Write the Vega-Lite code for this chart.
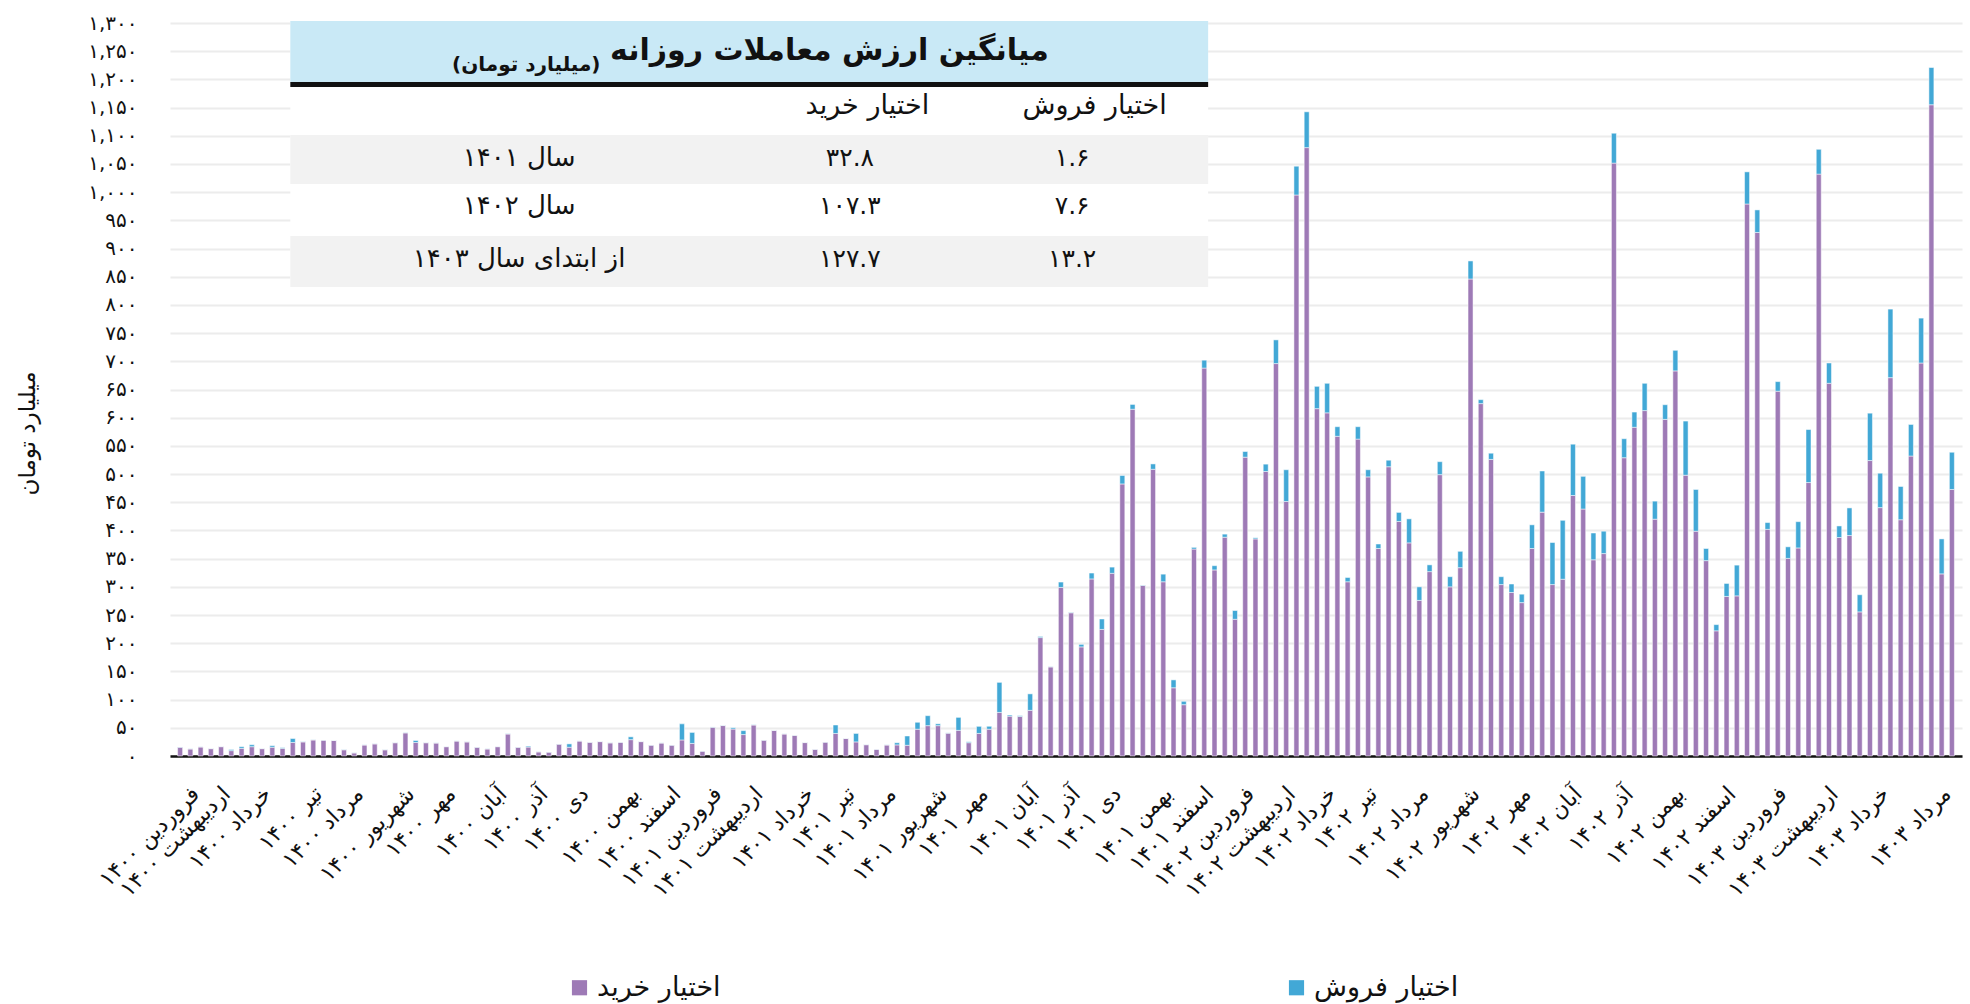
{
  "$schema": "https://vega.github.io/schema/vega-lite/v6.json",
  "width": 1792,
  "height": 733,
  "autosize": {"type": "none"},
  "padding": {"left": 170, "top": 23, "right": 8, "bottom": 248},
  "background": "white",
  "config": {
    "font": "DejaVu Sans",
    "view": {"stroke": null},
    "locale": {"number": {"decimal": ".", "thousands": ",", "grouping": [3], "currency": ["", ""], "numerals": ["۰","۱","۲","۳","۴","۵","۶","۷","۸","۹"]}}
  },
  "layer": [
    {
      "data": {"values": [
        {"w":1,"buy":15.5,"sell":0.5},{"w":2,"buy":12.5,"sell":0.3},{"w":3,"buy":16,"sell":0.3},{"w":4,"buy":13,"sell":0.3},{"w":5,"buy":16.5,"sell":0.3},
        {"w":6,"buy":9.5,"sell":2},{"w":7,"buy":13.5,"sell":3},{"w":8,"buy":16.5,"sell":3.5},{"w":9,"buy":13,"sell":0.3},{"w":10,"buy":15.5,"sell":2.8},
        {"w":11,"buy":13.5,"sell":1.3},{"w":12,"buy":24,"sell":7},{"w":13,"buy":25,"sell":0.5},{"w":14,"buy":28.5,"sell":0.3},{"w":15,"buy":28,"sell":0.3},
        {"w":16,"buy":27.5,"sell":0.3},{"w":17,"buy":11,"sell":0.5},{"w":18,"buy":5.5,"sell":0.3},{"w":19,"buy":19.5,"sell":0.3},{"w":20,"buy":21.5,"sell":0.3},
        {"w":21,"buy":11,"sell":0.3},{"w":22,"buy":23.5,"sell":0.3},{"w":23,"buy":41,"sell":0.5},{"w":24,"buy":24,"sell":3.5},{"w":25,"buy":23.5,"sell":0.3},
        {"w":26,"buy":23,"sell":0.3},{"w":27,"buy":16.5,"sell":0.3},{"w":28,"buy":26.5,"sell":0.3},{"w":29,"buy":25,"sell":0.3},{"w":30,"buy":15.5,"sell":0.3},
        {"w":31,"buy":12.5,"sell":0.3},{"w":32,"buy":16.5,"sell":0.3},{"w":33,"buy":39,"sell":0.5},{"w":34,"buy":15.5,"sell":0.3},{"w":35,"buy":15.8,"sell":1.7},
        {"w":36,"buy":7.3,"sell":0.3},{"w":37,"buy":6.8,"sell":0.3},{"w":38,"buy":21,"sell":0.3},{"w":39,"buy":15.5,"sell":6},{"w":40,"buy":26.5,"sell":0.3},
        {"w":41,"buy":24.3,"sell":0.3},{"w":42,"buy":25.5,"sell":0.3},{"w":43,"buy":23.3,"sell":0.3},{"w":44,"buy":24.3,"sell":0.3},{"w":45,"buy":29,"sell":5},
        {"w":46,"buy":25.5,"sell":0.3},{"w":47,"buy":19.2,"sell":0.3},{"w":48,"buy":23,"sell":0.3},{"w":49,"buy":19.2,"sell":0.3},{"w":50,"buy":28.5,"sell":28.5},
        {"w":51,"buy":22.3,"sell":19.5},{"w":52,"buy":8.5,"sell":0.3},{"w":53,"buy":51,"sell":0.5},{"w":54,"buy":54,"sell":0.5},{"w":55,"buy":47.8,"sell":2.3},
        {"w":56,"buy":38,"sell":7},{"w":57,"buy":55,"sell":0.5},{"w":58,"buy":28,"sell":0.3},{"w":59,"buy":45.3,"sell":0.3},{"w":60,"buy":39,"sell":0.3},
        {"w":61,"buy":36.6,"sell":0.3},{"w":62,"buy":23.8,"sell":0.3},{"w":63,"buy":11.8,"sell":0.3},{"w":64,"buy":24.5,"sell":0.3},{"w":65,"buy":40,"sell":15},
        {"w":66,"buy":31,"sell":0.3},{"w":67,"buy":25,"sell":15},{"w":68,"buy":20,"sell":0.3},{"w":69,"buy":11.8,"sell":0.3},{"w":70,"buy":19.5,"sell":0.3},
        {"w":71,"buy":19.7,"sell":3.8},{"w":72,"buy":19,"sell":16.5},{"w":73,"buy":47.5,"sell":12.3},{"w":74,"buy":53.8,"sell":17.7},{"w":75,"buy":53.8,"sell":3.3},
        {"w":76,"buy":40.5,"sell":0.5},{"w":77,"buy":45.5,"sell":23},{"w":78,"buy":23.6,"sell":1.6},{"w":79,"buy":40,"sell":12.6},{"w":80,"buy":47.5,"sell":5.2},
        {"w":81,"buy":77.3,"sell":53.3},{"w":82,"buy":70.6,"sell":2},{"w":83,"buy":70,"sell":1.5},{"w":84,"buy":81,"sell":29.2},{"w":85,"buy":210,"sell":2},
        {"w":86,"buy":158,"sell":0.5},{"w":87,"buy":299,"sell":9.5},{"w":88,"buy":254,"sell":0.8},{"w":89,"buy":193.5,"sell":4.5},{"w":90,"buy":314,"sell":10.5},
        {"w":91,"buy":224.5,"sell":18.5},{"w":92,"buy":324,"sell":11},{"w":93,"buy":482.5,"sell":15},{"w":94,"buy":615,"sell":8.5},{"w":95,"buy":302.5,"sell":0.8},
        {"w":96,"buy":508.5,"sell":9.5},{"w":97,"buy":309,"sell":13.5},{"w":98,"buy":121,"sell":14},{"w":99,"buy":91,"sell":6},{"w":100,"buy":367,"sell":3},
        {"w":101,"buy":688,"sell":14},{"w":102,"buy":330,"sell":7.5},{"w":103,"buy":388,"sell":5.5},{"w":104,"buy":242.5,"sell":15.5},{"w":105,"buy":530,"sell":10},
        {"w":106,"buy":385,"sell":2},{"w":107,"buy":504.6,"sell":13},{"w":108,"buy":696,"sell":42},{"w":109,"buy":451.4,"sell":56.3},{"w":110,"buy":995,"sell":51},
        {"w":111,"buy":1079,"sell":63.5},{"w":112,"buy":616,"sell":39.6},{"w":113,"buy":608.6,"sell":52.4},{"w":114,"buy":567,"sell":17},{"w":115,"buy":309,"sell":7.6},
        {"w":116,"buy":562,"sell":22},{"w":117,"buy":495,"sell":12.7},{"w":118,"buy":368,"sell":8},{"w":119,"buy":513,"sell":11.6},{"w":120,"buy":416,"sell":16},
        {"w":121,"buy":378,"sell":42.6},{"w":122,"buy":276,"sell":24},{"w":123,"buy":327,"sell":12},{"w":124,"buy":499,"sell":23},{"w":125,"buy":300,"sell":18},
        {"w":126,"buy":334,"sell":29},{"w":127,"buy":846,"sell":32},{"w":128,"buy":625,"sell":7},{"w":129,"buy":526,"sell":11},{"w":130,"buy":304,"sell":14},
        {"w":131,"buy":290,"sell":15},{"w":132,"buy":272,"sell":15},{"w":133,"buy":368,"sell":42},{"w":134,"buy":432.5,"sell":73},{"w":135,"buy":304,"sell":74.6},
        {"w":136,"buy":313.5,"sell":104.5},{"w":137,"buy":462,"sell":91},{"w":138,"buy":438,"sell":58},{"w":139,"buy":348,"sell":47.5},{"w":140,"buy":359,"sell":39.7},
        {"w":141,"buy":1051.5,"sell":53},{"w":142,"buy":529,"sell":33.7},{"w":143,"buy":583,"sell":27},{"w":144,"buy":612.6,"sell":48.4},{"w":145,"buy":420,"sell":32},
        {"w":146,"buy":597,"sell":26},{"w":147,"buy":683,"sell":36.5},{"w":148,"buy":498,"sell":96},{"w":149,"buy":398.7,"sell":74},{"w":150,"buy":346.5,"sell":21.5},
        {"w":151,"buy":222,"sell":11},{"w":152,"buy":283,"sell":23},{"w":153,"buy":284,"sell":54.5},{"w":154,"buy":979,"sell":57},{"w":155,"buy":928.5,"sell":40},
        {"w":156,"buy":402,"sell":12},{"w":157,"buy":647,"sell":17},{"w":158,"buy":350.5,"sell":20.5},{"w":159,"buy":369,"sell":46.6},{"w":160,"buy":485,"sell":94},
        {"w":161,"buy":1032,"sell":44},{"w":162,"buy":661,"sell":36},{"w":163,"buy":387.5,"sell":20.5},{"w":164,"buy":391,"sell":49},{"w":165,"buy":255.6,"sell":30.4},
        {"w":166,"buy":524,"sell":84},{"w":167,"buy":440.5,"sell":61},{"w":168,"buy":671,"sell":121.6},{"w":169,"buy":419,"sell":59},{"w":170,"buy":532,"sell":56},
        {"w":171,"buy":697,"sell":79.6},{"w":172,"buy":1155,"sell":66},{"w":173,"buy":323,"sell":62},{"w":174,"buy":472.7,"sell":66}
      ]},
      "transform": [{"fold": ["buy", "sell"], "as": ["key", "value"]}],
      "mark": {"type": "bar", "size": 5, "stroke": "white", "strokeWidth": 0.5},
      "encoding": {
        "x": {
          "field": "w", "type": "quantitative",
          "scale": {"domain": [0.5, 174.5], "nice": false, "zero": false},
          "axis": {
            "title": null, "grid": false, "ticks": false,
            "domain": true, "domainColor": "#111111", "domainWidth": 2.5,
            "values": [2,5,9,14,18,23,27,32,36,40,45,49,53,57,62,66,70,75,79,84,88,92,97,101,105,109,113,117,122,127,132,137,142,147,152,157,162,167,173],
            "tickCount": 60,
            "labelExpr": "({'2':'فروردین ۱۴۰۰','5':'اردیبهشت ۱۴۰۰','9':'خرداد ۱۴۰۰','14':'تیر ۱۴۰۰','18':'مرداد ۱۴۰۰','23':'شهریور ۱۴۰۰','27':'مهر ۱۴۰۰','32':'آبان ۱۴۰۰','36':'آذر ۱۴۰۰','40':'دی ۱۴۰۰','45':'بهمن ۱۴۰۰','49':'اسفند ۱۴۰۰','53':'فروردین ۱۴۰۱','57':'اردیبهشت ۱۴۰۱','62':'خرداد ۱۴۰۱','66':'تیر ۱۴۰۱','70':'مرداد ۱۴۰۱','75':'شهریور ۱۴۰۱','79':'مهر ۱۴۰۱','84':'آبان ۱۴۰۱','88':'آذر ۱۴۰۱','92':'دی ۱۴۰۱','97':'بهمن ۱۴۰۱','101':'اسفند ۱۴۰۱','105':'فروردین ۱۴۰۲','109':'اردیبهشت ۱۴۰۲','113':'خرداد ۱۴۰۲','117':'تیر ۱۴۰۲','122':'مرداد ۱۴۰۲','127':'شهریور ۱۴۰۲','132':'مهر ۱۴۰۲','137':'آبان ۱۴۰۲','142':'آذر ۱۴۰۲','147':'بهمن ۱۴۰۲','152':'اسفند ۱۴۰۲','157':'فروردین ۱۴۰۳','162':'اردیبهشت ۱۴۰۳','167':'خرداد ۱۴۰۳','173':'مرداد ۱۴۰۳'})[datum.value] || ''",
            "labelAngle": -45, "labelAlign": "right", "labelBaseline": "middle",
            "labelPadding": 34, "labelOffset": 5, "labelFontSize": 22, "labelColor": "#111111",
            "labelOverlap": false, "labelBound": false, "labelFlush": false
          }
        },
        "y": {
          "field": "value", "type": "quantitative", "stack": "zero",
          "scale": {"domain": [0, 1300], "nice": false},
          "axis": {
            "title": "میلیارد تومان", "titleFontSize": 23, "titleFontWeight": "normal", "titleColor": "#111111",
            "titleX": -143, "titleY": 410, "titleAngle": -90, "titleAlign": "center", "titleBaseline": "middle",
            "values": [0,50,100,150,200,250,300,350,400,450,500,550,600,650,700,750,800,850,900,950,1000,1050,1100,1150,1200,1250,1300],
            "tickCount": 40,
            "format": ",d", "ticks": false, "domain": false, "labelOverlap": false, "labelFlush": false,
            "grid": true, "gridColor": "#ececec", "gridWidth": 2,
            "labelFontSize": 20, "labelColor": "#111111", "labelPadding": 33
          }
        },
        "color": {
          "field": "key", "type": "nominal",
          "scale": {"domain": ["buy", "sell"], "range": ["#9e7ab6", "#42a8d6"]},
          "legend": {
            "orient": "none", "legendX": 396, "legendY": 951, "direction": "horizontal",
            "title": null, "symbolType": "square", "symbolSize": 230, "symbolStrokeWidth": 0,
            "labelFontSize": 27, "labelColor": "#111111", "labelLimit": 400, "columnPadding": 562,
            "labelExpr": "datum.label == 'buy' ? 'اختیار خرید' : 'اختیار فروش'"
          }
        },
        "order": {"field": "key", "sort": "ascending"}
      }
    },
    {"data": {"values": [{}]}, "mark": {"type": "rect", "fill": "white"},
     "encoding": {"x": {"datum": 11.76, "type": "quantitative"}, "x2": {"datum": 101.38}, "y": {"datum": 1303.6, "type": "quantitative"}, "y2": {"datum": 831.9}}},
    {"data": {"values": [{}]}, "mark": {"type": "rect", "fill": "#c9e9f6"},
     "encoding": {"x": {"datum": 11.76, "type": "quantitative"}, "x2": {"datum": 101.38}, "y": {"datum": 1303.6, "type": "quantitative"}, "y2": {"datum": 1195.4}}},
    {"data": {"values": [{}]}, "mark": {"type": "rect", "fill": "#111111"},
     "encoding": {"x": {"datum": 11.76, "type": "quantitative"}, "x2": {"datum": 101.38}, "y": {"datum": 1195.4, "type": "quantitative"}, "y2": {"datum": 1186.6}}},
    {"data": {"values": [{}]}, "mark": {"type": "rect", "fill": "#f2f2f2"},
     "encoding": {"x": {"datum": 11.76, "type": "quantitative"}, "x2": {"datum": 101.38}, "y": {"datum": 1101.5, "type": "quantitative"}, "y2": {"datum": 1014.5}}},
    {"data": {"values": [{}]}, "mark": {"type": "rect", "fill": "#f2f2f2"},
     "encoding": {"x": {"datum": 11.76, "type": "quantitative"}, "x2": {"datum": 101.38}, "y": {"datum": 922.3, "type": "quantitative"}, "y2": {"datum": 831.9}}},
    {"data": {"values": [{}]}, "mark": {"type": "text", "text": "میانگین ارزش معاملات روزانه", "fontSize": 30, "fontWeight": "bold", "color": "#111111", "align": "center", "baseline": "middle"},
     "encoding": {"x": {"datum": 64.4, "type": "quantitative"}, "y": {"datum": 1250, "type": "quantitative"}}},
    {"data": {"values": [{}]}, "mark": {"type": "text", "text": "(میلیارد تومان)", "fontSize": 20, "fontWeight": "bold", "color": "#111111", "align": "center", "baseline": "middle"},
     "encoding": {"x": {"datum": 34.8, "type": "quantitative"}, "y": {"datum": 1225, "type": "quantitative"}}},
    {"data": {"values": [{}]}, "mark": {"type": "text", "text": "اختیار خرید", "fontSize": 27, "color": "#111111", "align": "center", "baseline": "middle"},
     "encoding": {"x": {"datum": 68.1, "type": "quantitative"}, "y": {"datum": 1153, "type": "quantitative"}}},
    {"data": {"values": [{}]}, "mark": {"type": "text", "text": "اختیار فروش", "fontSize": 27, "color": "#111111", "align": "center", "baseline": "middle"},
     "encoding": {"x": {"datum": 90.3, "type": "quantitative"}, "y": {"datum": 1153, "type": "quantitative"}}},
    {"data": {"values": [{}]}, "mark": {"type": "text", "text": "سال ۱۴۰۱", "fontSize": 26, "color": "#111111", "align": "center", "baseline": "middle"},
     "encoding": {"x": {"datum": 34.1, "type": "quantitative"}, "y": {"datum": 1060.7, "type": "quantitative"}}},
    {"data": {"values": [{}]}, "mark": {"type": "text", "text": "سال ۱۴۰۲", "fontSize": 26, "color": "#111111", "align": "center", "baseline": "middle"},
     "encoding": {"x": {"datum": 34.1, "type": "quantitative"}, "y": {"datum": 975.5, "type": "quantitative"}}},
    {"data": {"values": [{}]}, "mark": {"type": "text", "text": "از ابتدای سال ۱۴۰۳", "fontSize": 26, "color": "#111111", "align": "center", "baseline": "middle"},
     "encoding": {"x": {"datum": 34.1, "type": "quantitative"}, "y": {"datum": 881.5, "type": "quantitative"}}},
    {"data": {"values": [{}]}, "mark": {"type": "text", "text": "۳۲.۸", "fontSize": 25, "color": "#111111", "align": "center", "baseline": "middle"},
     "encoding": {"x": {"datum": 66.4, "type": "quantitative"}, "y": {"datum": 1060.7, "type": "quantitative"}}},
    {"data": {"values": [{}]}, "mark": {"type": "text", "text": "۱۰۷.۳", "fontSize": 25, "color": "#111111", "align": "center", "baseline": "middle"},
     "encoding": {"x": {"datum": 66.4, "type": "quantitative"}, "y": {"datum": 975.5, "type": "quantitative"}}},
    {"data": {"values": [{}]}, "mark": {"type": "text", "text": "۱۲۷.۷", "fontSize": 25, "color": "#111111", "align": "center", "baseline": "middle"},
     "encoding": {"x": {"datum": 66.4, "type": "quantitative"}, "y": {"datum": 881.5, "type": "quantitative"}}},
    {"data": {"values": [{}]}, "mark": {"type": "text", "text": "۱.۶", "fontSize": 25, "color": "#111111", "align": "center", "baseline": "middle"},
     "encoding": {"x": {"datum": 88.1, "type": "quantitative"}, "y": {"datum": 1060.7, "type": "quantitative"}}},
    {"data": {"values": [{}]}, "mark": {"type": "text", "text": "۷.۶", "fontSize": 25, "color": "#111111", "align": "center", "baseline": "middle"},
     "encoding": {"x": {"datum": 88.1, "type": "quantitative"}, "y": {"datum": 975.5, "type": "quantitative"}}},
    {"data": {"values": [{}]}, "mark": {"type": "text", "text": "۱۳.۲", "fontSize": 25, "color": "#111111", "align": "center", "baseline": "middle"},
     "encoding": {"x": {"datum": 88.1, "type": "quantitative"}, "y": {"datum": 881.5, "type": "quantitative"}}}
  ]
}
